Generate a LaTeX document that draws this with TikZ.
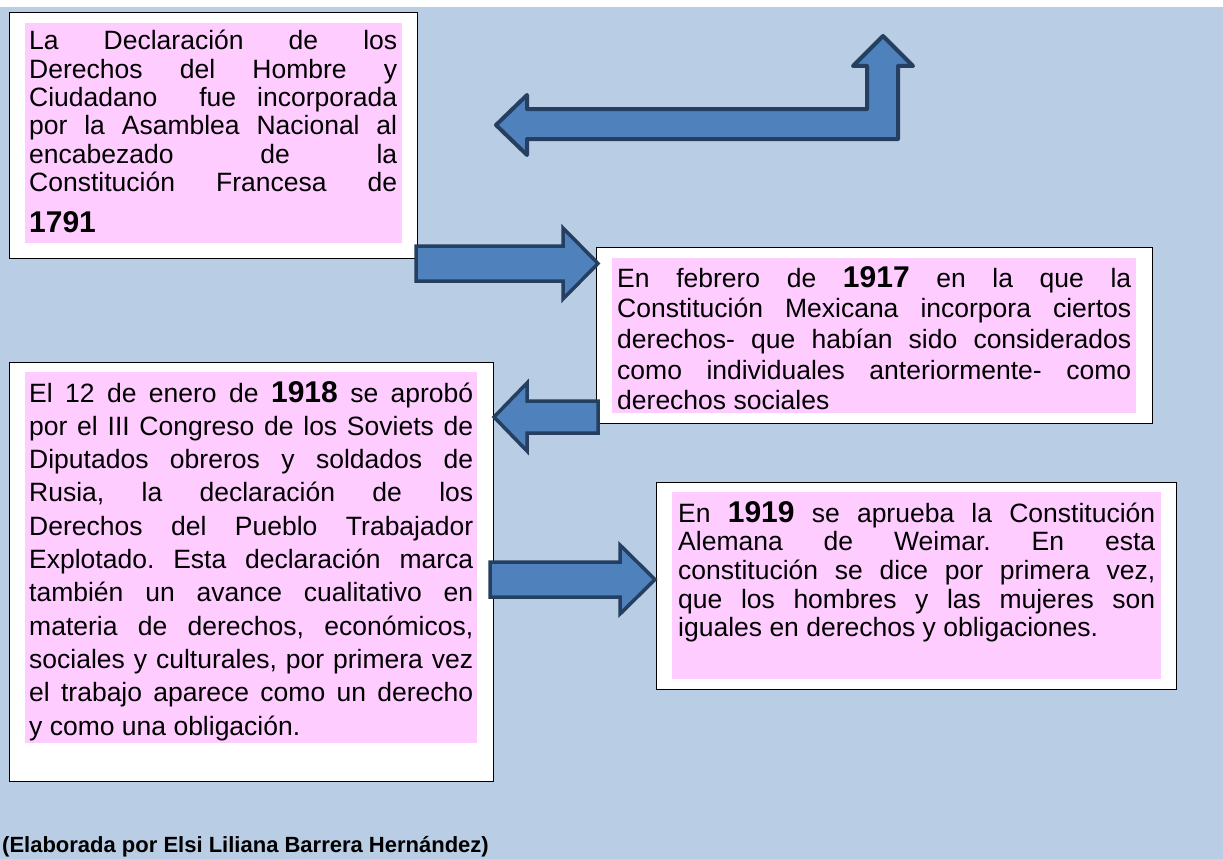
\documentclass[tikz,border=0pt]{standalone}
\usepackage{fontspec}
\setmainfont{Liberation Sans}
\definecolor{bgblue}{HTML}{B9CDE5}
\definecolor{pinkfill}{HTML}{FFCCFF}
\definecolor{arrowfill}{HTML}{4F81BD}
\definecolor{arrowline}{HTML}{243F60}
\newcommand{\justlines}[2]{\parbox[t]{#1}{\frenchspacing\tolerance=10000\hbadness=10000\hyphenpenalty=10000\exhyphenpenalty=10000 #2}}
\newcommand{\bigyear}[1]{{\bfseries\fontsize{30}{30}\selectfont #1}}
\tikzset{
  outerbox/.style={draw=black, line width=1.2pt, fill=white, inner sep=0pt, anchor=north west},
  pinkbox/.style={fill=pinkfill, inner sep=0pt, anchor=north west},
  blockarrow/.style={fill=arrowfill, draw=arrowline, line width=3.5pt, line join=miter},
  bentarrow/.style={fill=arrowfill, draw=arrowline, line width=4pt, line join=round},
  bodytext/.style={anchor=base west, inner sep=0pt},
}
\begin{document}
\begin{tikzpicture}[x=1pt,y=-1pt]
\useasboundingbox (0,0) rectangle (1223,859);
\fill[white] (0,0) rectangle (1223,859);
\fill[bgblue] (0,7) rectangle (1223,859);

% box 1791
\node[outerbox, minimum width=408pt, minimum height=246pt] (b1) at (9,12) {};
\node[pinkbox, minimum width=377pt, minimum height=220pt] (p1) at (25,23) {};
\node[bodytext, font=\fontsize{26.5}{28.3}\selectfont] (t1) at (29,50) {\justlines{368pt}{%
La Declaración de los\linebreak
Derechos del Hombre y\linebreak
Ciudadano\ \ fue incorporada\linebreak
por la Asamblea Nacional al\linebreak
encabezado de la\linebreak
Constitución Francesa de\vadjust{\vskip 13pt}\linebreak
\bigyear{1791}}};

% box 1917
\node[outerbox, minimum width=556pt, minimum height=176pt] (b2) at (596,247) {};
\node[pinkbox, minimum width=524pt, minimum height=155pt] (p2) at (612,258) {};
\node[bodytext, font=\fontsize{26.5}{30.7}\selectfont] (t2) at (617,287) {\justlines{514pt}{%
En febrero de \bigyear{1917} en la que la\linebreak
Constitución Mexicana incorpora ciertos\linebreak
derechos- que habían sido considerados\linebreak
como individuales anteriormente- como\linebreak
derechos sociales}};

% box 1918
\node[outerbox, minimum width=484pt, minimum height=419pt] (b3) at (9,362) {};
\node[pinkbox, minimum width=452pt, minimum height=371pt] (p3) at (25,372) {};
\node[bodytext, font=\fontsize{26.5}{33.3}\selectfont] (t3) at (29,402) {\justlines{444pt}{%
El 12 de enero de \bigyear{1918} se aprobó\linebreak
por el III Congreso de los Soviets de\linebreak
Diputados obreros y soldados de\linebreak
Rusia, la declaración de los\linebreak
Derechos del Pueblo Trabajador\linebreak
Explotado. Esta declaración marca\linebreak
también un avance cualitativo en\linebreak
materia de derechos, económicos,\linebreak
sociales y culturales, por primera vez\linebreak
el trabajo aparece como un derecho\linebreak
y como una obligación.}};

% box 1919
\node[outerbox, minimum width=520pt, minimum height=207pt] (b4) at (656,482) {};
\node[pinkbox, minimum width=489pt, minimum height=187pt] (p4) at (672,492) {};
\node[bodytext, font=\fontsize{26.5}{28.7}\selectfont] (t4) at (678,522) {\justlines{477pt}{%
En \bigyear{1919} se aprueba la Constitución\linebreak
Alemana de Weimar. En esta\linebreak
constitución se dice por primera vez,\linebreak
que los hombres y las mujeres son\linebreak
iguales en derechos y obligaciones.}};

% arrows
\draw[bentarrow] (496,125) -- (527,95) -- (527,109) -- (867,109) -- (867,66) -- (853,66)
  -- (883,36) -- (913,66) -- (898,66) -- (898,139) -- (527,139) -- (527,155) -- cycle;
\draw[blockarrow] (416,246) -- (563,246) -- (563,228) -- (598,263.5) -- (563,299) -- (563,281) -- (416,281) -- cycle;
\draw[blockarrow] (598,401) -- (527,401) -- (527,383) -- (494,417) -- (527,451) -- (527,433) -- (598,433) -- cycle;
\draw[blockarrow] (490,562) -- (620,562) -- (620,545) -- (655,579.5) -- (620,614) -- (620,597) -- (490,597) -- cycle;

% footer
\node[anchor=base west, inner sep=0pt, font=\bfseries\fontsize{22}{26}\selectfont] (credit) at (2,852) {(Elaborada por Elsi Liliana Barrera Hernández)};
\end{tikzpicture}
\end{document}
